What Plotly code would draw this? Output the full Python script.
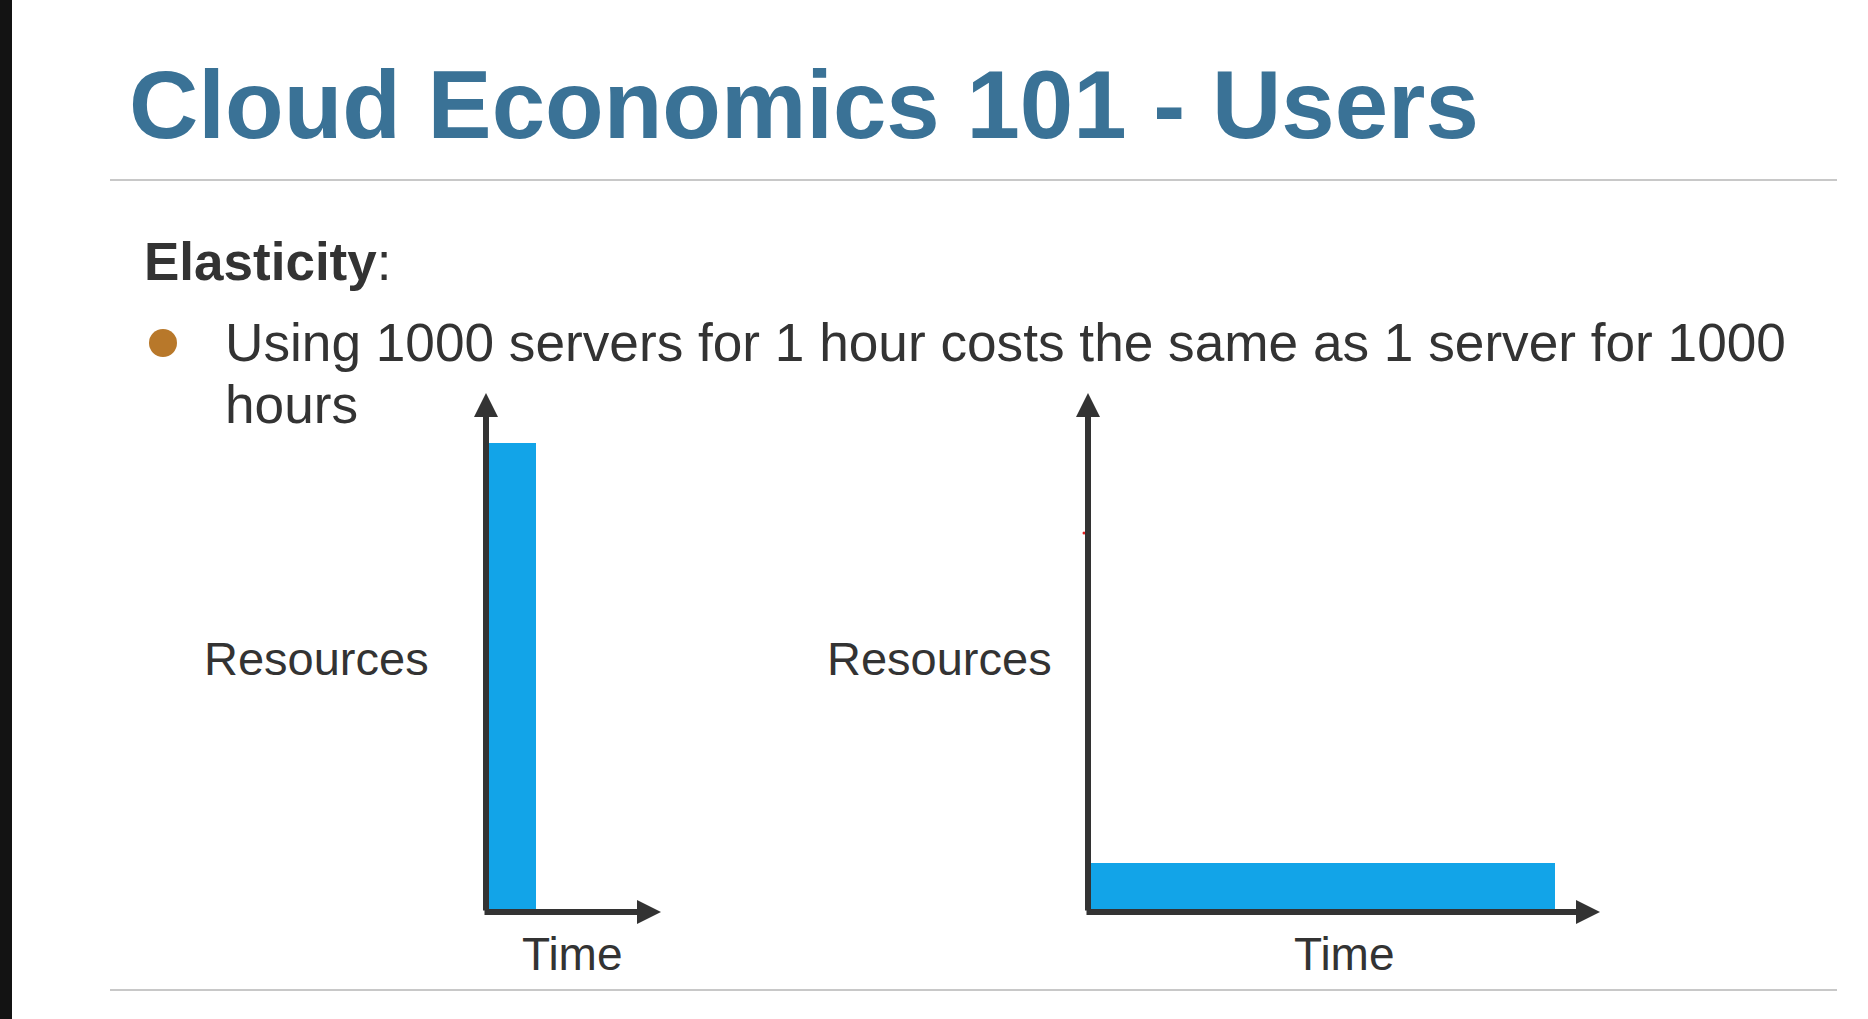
import plotly.graph_objects as go

W, H = 1868, 1019

# ---------------- data ----------------
scenarios = ["1000 servers for 1 hour", "1 server for 1000 hours"]
servers = [1000, 1]          # resources (height of each bar)
hours = [1, 1000]            # time (length of each bar)
y_label = "Resources"
x_label = "Time"
title_text = "Cloud Economics 101 - Users"
heading_text = "Elasticity"
bullet_lines = ["Using 1000 servers for 1 hour costs the same as 1 server for 1000", "hours"]

# ---------------- layout constants ----------------
x_ranges = [[0, 3.5], [0, 1096.4]]
y_ranges = [[0, 1106.6], [0, 10.6]]
x_dom_px = [[486, 661], [1088, 1600]]
y_dom_px = [393, 912]

BAR = "#12A4E8"
AXC = "#333333"
TXT = "#333333"
TITLE = "#3A7296"
FONT = "Liberation Sans, Arial, sans-serif"
LW = 6


def px(p):
    return p / W


def py(p):
    return 1 - p / H


fig = go.Figure()
axes = [("x", "y"), ("x2", "y2")]
for i, (xa, ya) in enumerate(axes):
    fig.add_trace(go.Bar(
        x=[hours[i] / 2], y=[servers[i]], width=[hours[i]],
        name=scenarios[i], marker=dict(color=BAR, line=dict(width=0)),
        xaxis=xa, yaxis=ya, showlegend=False, hoverinfo="skip"))

annotations = []
for i, (xa, ya) in enumerate(axes):
    xr, yr = x_ranges[i], y_ranges[i]
    len_px = x_dom_px[i][1] - x_dom_px[i][0]
    ext = (xr[1] - xr[0]) * (LW / 2) / len_px
    # x axis arrow
    annotations.append(dict(x=xr[1], y=0, ax=xr[0] - ext, ay=0, xref=xa, yref=ya,
                            axref=xa, ayref=ya, text="", showarrow=True, arrowhead=2,
                            arrowsize=0.8, arrowwidth=LW, arrowcolor=AXC, standoff=0))
    # y axis arrow
    annotations.append(dict(x=0, y=yr[1], ax=0, ay=yr[0], xref=xa, yref=ya,
                            axref=xa, ayref=ya, text="", showarrow=True, arrowhead=2,
                            arrowsize=0.8, arrowwidth=LW, arrowcolor=AXC, standoff=0))


def txt(text, x, yc, size, color=TXT, anchor="left"):
    annotations.append(dict(text=text, x=px(x), y=py(yc), xref="paper", yref="paper",
                            xanchor=anchor, yanchor="middle", showarrow=False,
                            borderpad=0, borderwidth=0,
                            font=dict(family=FONT, size=size, color=color)))


txt("<b>" + title_text + "</b>", 129, 138 - 0.3465 * 96, 96, TITLE)
txt("<b>" + heading_text + "</b>:", 144, 280 - 0.3465 * 53, 53)
txt(bullet_lines[0], 225, 361 - 0.3465 * 53.2, 53.2)
txt(bullet_lines[1], 225, 423 - 0.3465 * 53.2, 53.2)
txt(y_label, 204, 675 - 0.3465 * 47, 47)
txt(y_label, 827, 675 - 0.3465 * 47, 47)
txt(x_label, 572, 970 - 0.3465 * 46, 46, anchor="center")
txt(x_label, 1344, 970 - 0.3465 * 46, 46, anchor="center")

shapes = [
    dict(type="rect", xref="paper", yref="paper", x0=0, x1=px(12), y0=0, y1=1,
         fillcolor="#131313", line=dict(width=0), layer="above"),
    dict(type="line", xref="paper", yref="paper", x0=px(110), x1=px(1837), y0=py(180), y1=py(180),
         line=dict(color="#C8C8C8", width=2)),
    dict(type="line", xref="paper", yref="paper", x0=px(110), x1=px(1837), y0=py(990), y1=py(990),
         line=dict(color="#C8C8C8", width=2)),
    dict(type="circle", xref="paper", yref="paper", x0=px(149), x1=px(177), y0=py(357), y1=py(329),
         fillcolor="#B8782A", line=dict(width=0)),
    dict(type="circle", xref="paper", yref="paper", x0=px(1082.5), x1=px(1085.5), y0=py(534.5), y1=py(531.5),
         fillcolor="#E02020", line=dict(width=0)),
]

fig.update_layout(
    width=W, height=H, autosize=False,
    margin=dict(l=0, r=0, t=0, b=0, pad=0),
    paper_bgcolor="white", plot_bgcolor="rgba(0,0,0,0)",
    showlegend=False, hovermode=False, bargap=0,
    xaxis=dict(domain=[px(x_dom_px[0][0]), px(x_dom_px[0][1])], range=x_ranges[0], visible=False, fixedrange=True, anchor="y"),
    yaxis=dict(domain=[py(y_dom_px[1]), py(y_dom_px[0])], range=y_ranges[0], visible=False, fixedrange=True, anchor="x"),
    xaxis2=dict(domain=[px(x_dom_px[1][0]), px(x_dom_px[1][1])], range=x_ranges[1], visible=False, fixedrange=True, anchor="y2"),
    yaxis2=dict(domain=[py(y_dom_px[1]), py(y_dom_px[0])], range=y_ranges[1], visible=False, fixedrange=True, anchor="x2"),
    annotations=annotations,
    shapes=shapes,
)

fig.write_html("out.html", config={"displayModeBar": False, "staticPlot": True})
